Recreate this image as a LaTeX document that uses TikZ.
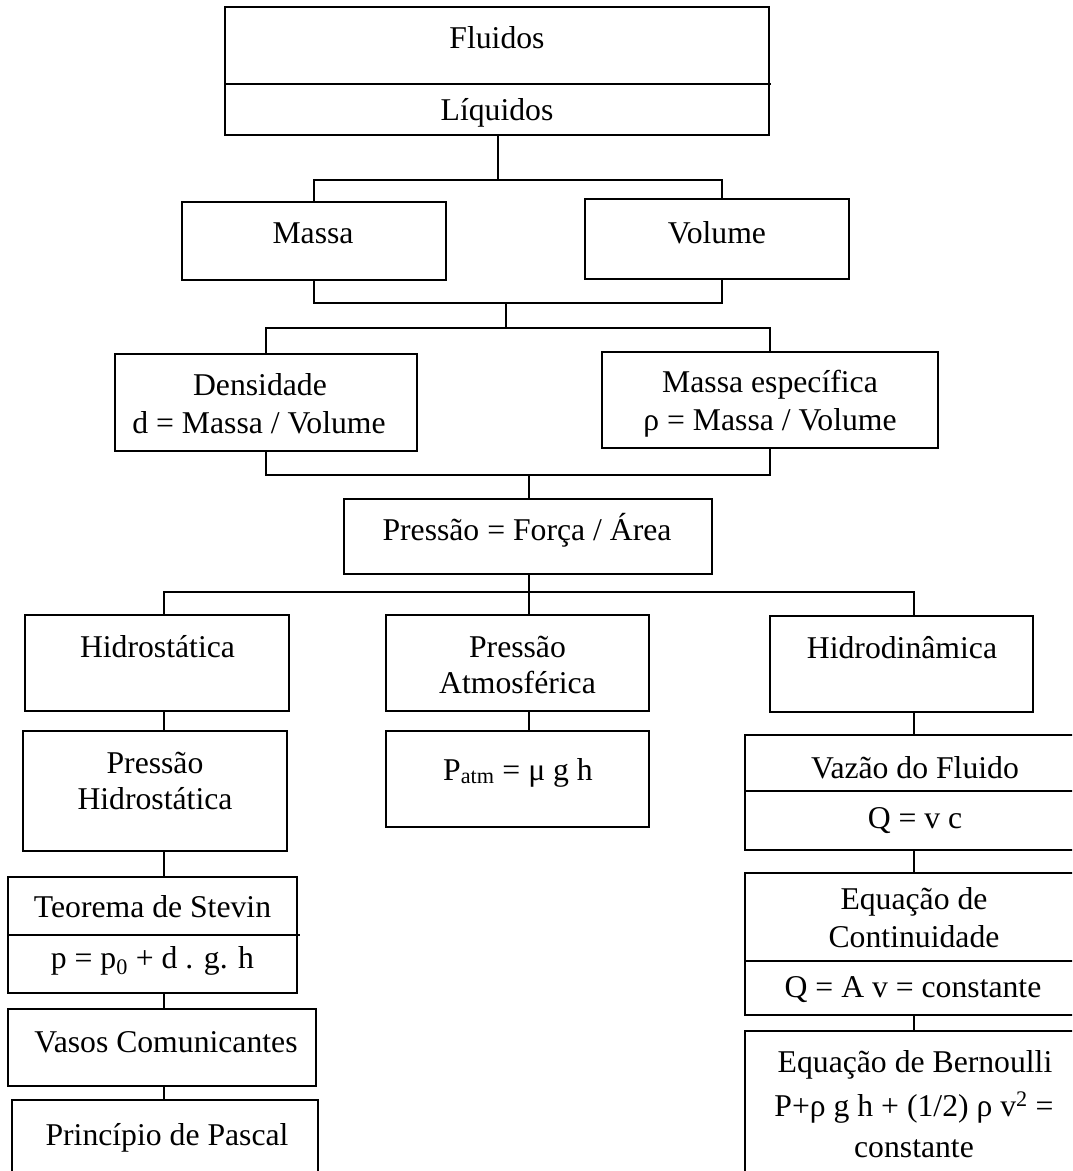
\documentclass[tikz,border=0pt]{standalone}
\usepackage{fontspec}
\setmainfont{Liberation Serif}
\begin{document}
\begin{tikzpicture}[x=1pt,y=-1pt,
  box/.style={draw, line width=2pt, inner sep=0pt, rectangle},
  lbl/.style={anchor=base, inner sep=0pt, font=\fontsize{31.7}{36.5}\selectfont},
  link/.style={line width=2pt}]
\useasboundingbox (0,0) rectangle (1072,1171);
\clip (0,0) rectangle (1072,1171);

% ---- boxes ----
\node[box, minimum width=544, minimum height=128] (fluidos)   at (497,71)     {};
\node[box, minimum width=264, minimum height=78]  (massa)     at (314,241)    {};
\node[box, minimum width=264, minimum height=80]  (volume)    at (717,239)    {};
\node[box, minimum width=302, minimum height=97]  (densidade) at (266,402.5)  {};
\node[box, minimum width=336, minimum height=96]  (massaesp)  at (770,400)    {};
\node[box, minimum width=368, minimum height=75]  (pressao)   at (528,536.5)  {};
\node[box, minimum width=264, minimum height=96]  (hidrost)   at (157,663)    {};
\node[box, minimum width=263, minimum height=96]  (atmos)     at (517.5,663)  {};
\node[box, minimum width=263, minimum height=96]  (hidrodin)  at (901.5,664)  {};
\node[box, minimum width=264, minimum height=120] (phidro)    at (155,791)    {};
\node[box, minimum width=263, minimum height=96]  (patm)      at (517.5,779)  {};
\node[box, minimum width=338, minimum height=115] (vazao)     at (914,792.5)  {};
\node[box, minimum width=289, minimum height=116] (stevin)    at (152.5,935)  {};
\node[box, minimum width=338, minimum height=142] (contin)    at (914,944)    {};
\node[box, minimum width=308, minimum height=77]  (vasos)     at (162,1047.5) {};
\node[box, minimum width=306, minimum height=80]  (pascal)    at (165,1140)   {};
\node[box, minimum width=338, minimum height=149] (bernoulli) at (914,1105.5) {};

% ---- dividing lines inside boxes ----
\draw[link] (fluidos.west |- 0,84) -- (771,84);
\draw[link] (stevin.west |- 0,935) -- (300,935);
\draw[link] (vazao.west |- 0,791) -- (vazao.east |- 0,791);
\draw[link] (contin.west |- 0,961) -- (contin.east |- 0,961);

% ---- texts ----
\node[lbl] (tFluidos)  at (497,48)    {Fluidos};
\node[lbl] (tLiquidos) at (497,120)   {Líquidos};
\node[lbl] (tMassa)    at (313,243)   {Massa};
\node[lbl] (tVolume)   at (717,243)   {Volume};
\node[lbl] (tDens1)    at (260,395)   {Densidade};
\node[lbl] (tDens2)    at (259,433)   {d = Massa / Volume};
\node[lbl] (tMesp1)    at (770,392)   {Massa específica};
\node[lbl] (tMesp2)    at (770,430)   {ρ = Massa / Volume};
\node[lbl] (tPressao)  at (527,540)   {Pressão = Força / Área};
\node[lbl] (tHidrost)  at (157.5,657) {Hidrostática};
\node[lbl] (tAtm1)     at (517.5,657) {Pressão};
\node[lbl] (tAtm2)     at (517.5,693) {Atmosférica};
\node[lbl] (tHidrodin) at (902,658)   {Hidrodinâmica};
\node[lbl] (tPh1)      at (155,773)   {Pressão};
\node[lbl] (tPh2)      at (155,809)   {Hidrostática};
\node[lbl] (tPatm)     at (518,780)   {P\textsubscript{atm} = μ g h};
\node[lbl] (tVazao)    at (915,778)   {Vazão do Fluido};
\node[lbl] (tQvc)      at (915,828)   {Q = v c};
\node[lbl] (tStevin)   at (152.5,917) {Teorema de Stevin};
\node[lbl] (tStevEq)   at (152.5,968) {p = p\textsubscript{0} + d . g. h};
\node[lbl] (tVasos)    at (166,1052)  {Vasos Comunicantes};
\node[lbl] (tPascal)   at (167,1145)  {Princípio de Pascal};
\node[lbl] (tCont1)    at (914,909)   {Equação de};
\node[lbl] (tCont2)    at (914,947)   {Continuidade};
\node[lbl] (tContEq)   at (913,997)   {Q = A v = constante};
\node[lbl] (tBern1)    at (915,1072)  {Equação de Bernoulli};
\node[lbl] (tBern2)    at (914,1116)  {P+ρ g h + (1/2) ρ v\textsuperscript{2} =};
\node[lbl] (tBern3)    at (914,1157)  {constante};

% ---- junction points ----
\coordinate (j1) at (498,180);
\coordinate (j2) at (506,303);
\coordinate (j3) at (506,328);
\coordinate (j4) at (529,475);
\coordinate (j5) at (529,592);
\coordinate (cL) at (164,0);
\coordinate (cR) at (914,0);

% ---- connectors ----
\draw[link] (fluidos.south -| j1) -- (j1);
\draw[link] (massa.north) |- (j1) -| ([xshift=5]volume.north);
\draw[link] (massa.south) |- (j2) -| ([xshift=5]volume.south);
\draw[link] (j2) -- (j3);
\draw[link] (densidade.north) |- (j3) -| (massaesp.north);
\draw[link] (densidade.south) |- (j4) -| (massaesp.south);
\draw[link] (j4) -- (pressao.north -| j4);
\draw[link] (pressao.south -| j5) -- (j5);
\draw[link] (hidrost.north -| cL) |- (j5) -| (hidrodin.north -| cR);
\draw[link] (j5) -- (atmos.north -| j5);
\draw[link] (atmos.south -| j5) -- (patm.north -| j5);
\draw[link] (hidrost.south -| cL) -- (phidro.north -| cL);
\draw[link] (phidro.south -| cL) -- (stevin.north -| cL);
\draw[link] (stevin.south -| cL) -- (vasos.north -| cL);
\draw[link] (vasos.south -| cL) -- (pascal.north -| cL);
\draw[link] (hidrodin.south -| cR) -- (vazao.north -| cR);
\draw[link] (vazao.south -| cR) -- (contin.north -| cR);
\draw[link] (contin.south -| cR) -- (bernoulli.north -| cR);
\end{tikzpicture}
\end{document}
